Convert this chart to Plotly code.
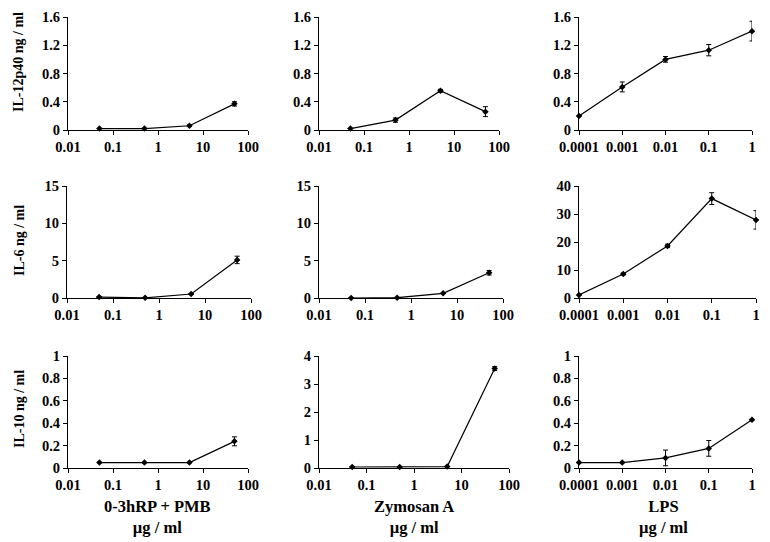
import plotly.graph_objects as go

# ---------------- data ----------------
x_hrp = [0.05, 0.5, 5, 50]
x_zym = [0.05, 0.5, 5, 50]
x_lps = [0.0001, 0.001, 0.01, 0.1, 1]

il12_hrp = [0.02, 0.02, 0.06, 0.37]
il12_hrp_err = [0.0, 0.0, 0.01, 0.03]
il12_zym = [0.02, 0.14, 0.555, 0.26]
il12_zym_err = [0.0, 0.03, 0.02, 0.07]
il12_lps = [0.198, 0.61, 1.0, 1.13, 1.40]
il12_lps_err = [0.0, 0.07, 0.04, 0.08, 0.14]

il6_hrp = [0.13, 0.02, 0.53, 5.1]
il6_hrp_err = [0.0, 0.0, 0.0, 0.5]
il6_zym = [0.0, 0.04, 0.62, 3.38]
il6_zym_err = [0.0, 0.0, 0.0, 0.3]
il6_lps = [1.07, 8.6, 18.6, 35.5, 27.9]
il6_lps_err = [0.0, 0.3, 0.6, 2.1, 3.3]

il10_hrp = [0.048, 0.048, 0.048, 0.238]
il10_hrp_err = [0.0, 0.0, 0.0, 0.04]
il10_zym = [0.036, 0.036, 0.05, 3.55]
il10_zym_err = [0.0, 0.0, 0.0, 0.07]
il10_lps = [0.048, 0.048, 0.09, 0.175, 0.43]
il10_lps_err = [0.0, 0.0, 0.07, 0.07, 0.0]

row_titles = ["IL-12p40 ng / ml", "IL-6 ng / ml", "IL-10 ng / ml"]
col_titles = ["0-3hRP + PMB<br>µg / ml", "Zymosan A<br>µg / ml", "LPS<br>µg / ml"]

ticks_hrp = [0.01, 0.1, 1, 10, 100]
ticktext_hrp = ["0.01", "0.1", "1", "10", "100"]
ticks_lps = [0.0001, 0.001, 0.01, 0.1, 1]
ticktext_lps = ["0.0001", "0.001", "0.01", "0.1", "1"]

yt_12 = [0, 0.4, 0.8, 1.2, 1.6]
yt_12_text = ["0", "0.4", "0.8", "1.2", "1.6"]
yt_6a = [0, 5, 10, 15]
yt_6b = [0, 10, 20, 30, 40]
yt_10 = [0, 0.2, 0.4, 0.6, 0.8, 1]
yt_10_text = ["0", "0.2", "0.4", "0.6", "0.8", "1"]
yt_10z = [0, 1, 2, 3, 4]

# ---------------- layout geometry ----------------
W, H = 770, 542
OFF = 8  # page body margin of the written html
FONT = "Liberation Serif"


def px(v):
    return (v - OFF) / W


def py(v):
    return 1 - (v - OFF) / H


def bold(labels):
    return ["<b>" + str(s) + "</b>" for s in labels]


panels = [
    # x, y, err, xticks, xtext, yticks, ytext, yrange, xpix, ypix
    (x_hrp, il12_hrp, il12_hrp_err, ticks_hrp, ticktext_hrp, yt_12, yt_12_text, [0, 1.6], (68, 248), (17, 130)),
    (x_zym, il12_zym, il12_zym_err, ticks_hrp, ticktext_hrp, yt_12, yt_12_text, [0, 1.6], (319, 499), (17, 130)),
    (x_lps, il12_lps, il12_lps_err, ticks_lps, ticktext_lps, yt_12, yt_12_text, [0, 1.6], (579, 752), (17, 130)),
    (x_hrp, il6_hrp, il6_hrp_err, ticks_hrp, ticktext_hrp, yt_6a, [str(v) for v in yt_6a], [0, 15], (67, 251), (186, 298)),
    (x_zym, il6_zym, il6_zym_err, ticks_hrp, ticktext_hrp, yt_6a, [str(v) for v in yt_6a], [0, 15], (319, 503), (186, 298)),
    (x_lps, il6_lps, il6_lps_err, ticks_lps, ticktext_lps, yt_6b, [str(v) for v in yt_6b], [0, 40], (579, 756), (186, 298)),
    (x_hrp, il10_hrp, il10_hrp_err, ticks_hrp, ticktext_hrp, yt_10, yt_10_text, [0, 1], (68, 248), (356, 468)),
    (x_zym, il10_zym, il10_zym_err, ticks_hrp, ticktext_hrp, yt_10z, [str(v) for v in yt_10z], [0, 4], (319, 509), (356, 468)),
    (x_lps, il10_lps, il10_lps_err, ticks_lps, ticktext_lps, yt_10, yt_10_text, [0, 1], (579, 752), (356, 468)),
]

fig = go.Figure()
layout = dict(
    width=W, height=H,
    margin=dict(l=0, r=0, t=0, b=0, autoexpand=False),
    paper_bgcolor="white", plot_bgcolor="white",
    showlegend=False,
    font=dict(family=FONT, size=14, color="black"),
)

for i, (xs, ys, es, xt, xtt, yt, ytt, yr, xpix, ypix) in enumerate(panels):
    n = i + 1
    sx = "" if n == 1 else str(n)
    fig.add_trace(go.Scatter(
        x=xs, y=ys, mode="lines+markers",
        line=dict(color="black", width=1.2),
        marker=dict(symbol="diamond", size=5, color="black"),
        error_y=dict(type="data", array=es, visible=True, color="black", thickness=1, width=2.5),
        xaxis="x" + sx, yaxis="y" + sx, cliponaxis=False,
    ))
    xr = [-2, 2] if xt is ticks_hrp else [-4, 0]
    layout["xaxis" + sx] = dict(
        type="log", range=xr, domain=[px(xpix[0]), px(xpix[1])],
        anchor="y" + sx, tickvals=xt, ticktext=bold(xtt),
        showline=True, linecolor="black", linewidth=1,
        ticks="outside", ticklen=4, tickcolor="black", tickwidth=1,
        showgrid=False, zeroline=False, automargin=False,
        tickfont=dict(family=FONT, size=14.5, color="black"),
        fixedrange=True,
    )
    layout["yaxis" + sx] = dict(
        range=yr, domain=[py(ypix[1]), py(ypix[0])],
        anchor="x" + sx, tickvals=yt, ticktext=bold(ytt),
        showline=True, linecolor="black", linewidth=1,
        ticks="outside", ticklen=4, tickcolor="black", tickwidth=1,
        showgrid=False, zeroline=False, automargin=False,
        tickfont=dict(family=FONT, size=14.5, color="black"),
        fixedrange=True,
    )

annotations = []
row_centers = [62, 241, 409]
for t, yc in zip(row_titles, row_centers):
    annotations.append(dict(
        text="<b>" + t + "</b>", x=px(19), y=py(yc), xref="paper", yref="paper",
        xanchor="center", yanchor="middle", textangle=-90, showarrow=False,
        font=dict(family=FONT, size=14, color="black"),
    ))
col_centers = [157, 414, 663]
for t, xc in zip(col_titles, col_centers):
    annotations.append(dict(
        text="<b>" + t + "</b>", x=px(xc), y=py(517), xref="paper", yref="paper",
        xanchor="center", yanchor="middle", showarrow=False,
        font=dict(family=FONT, size=16.5, color="black"),
    ))
layout["annotations"] = annotations

fig.update_layout(**layout)
fig.write_html("out.html")
